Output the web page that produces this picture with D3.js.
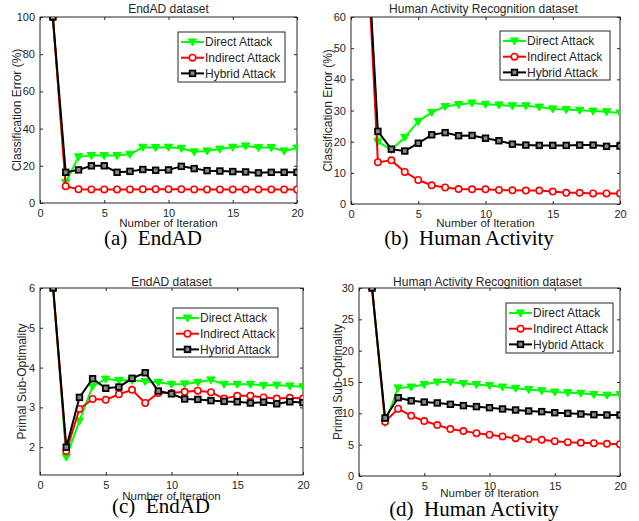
<!DOCTYPE html>
<html>
<head>
<meta charset="utf-8">
<script src="https://cdn.jsdelivr.net/npm/d3@7"></script>
<style>
  body { margin: 0; background: #fff; }
  svg { display: block; }
  text { font-family: "Liberation Sans", Arial, sans-serif; fill: #262626; }
  .caption { font-family: "Liberation Serif", "Times New Roman", serif; fill: #000; }
</style>
</head>
<body>
<svg id="chart" width="639" height="521"></svg>
<script>
// ---------- DATA ----------
const iterations = d3.range(1, 21);
const seriesNames = ["Direct Attack", "Indirect Attack", "Hybrid Attack"];
const xTicks = [0, 5, 10, 15, 20];

// (a) EndAD - classification error
const aDirect   = [100, 11, 24.8, 25.5, 25.5, 25.5, 26.2, 30, 29.8, 30, 29.4, 27.5, 28, 29, 30, 30.7, 29.8, 29.8, 28, 29.6];
const aIndirect = [100, 9, 7.4, 7.3, 7.3, 7.3, 7.3, 7.4, 7.4, 7.4, 7.4, 7.3, 7.3, 7.3, 7.3, 7.3, 7.3, 7.3, 7.3, 7.3];
const aHybrid   = [100, 16.5, 17.8, 20, 20, 16.5, 17, 18, 17.6, 17.8, 19.7, 18.5, 17.4, 17.2, 16.9, 16.7, 16.2, 16.5, 16.5, 16.5];
const aYTicks = [0, 20, 40, 60, 80, 100];

// (b) Human Activity - classification error
const bDirect   = [100, 20, 17.4, 21.4, 26.5, 29.4, 31.3, 31.9, 32.4, 32, 31.8, 31.5, 31.5, 31.1, 30.5, 30.3, 30.1, 29.8, 29.6, 29.2];
const bIndirect = [100, 13.4, 14, 10.3, 7.7, 6, 5.3, 4.8, 4.7, 4.7, 4.5, 4.4, 4.3, 4.3, 4, 3.6, 3.6, 3.4, 3.4, 3.4];
const bHybrid   = [100, 23.3, 17.6, 17, 19.5, 22.2, 22.9, 21.9, 22, 21.1, 20.3, 19.2, 18.9, 18.8, 18.8, 18.8, 18.9, 18.9, 18.5, 18.6];
const bYTicks = [0, 10, 20, 30, 40, 50, 60];

// (c) EndAD - primal sub-optimality
const cDirect   = [6, 1.75, 2.66, 3.53, 3.71, 3.68, 3.68, 3.65, 3.63, 3.58, 3.59, 3.63, 3.69, 3.58, 3.58, 3.58, 3.55, 3.56, 3.54, 3.52];
const cIndirect = [6, 1.9, 2.96, 3.21, 3.19, 3.33, 3.44, 3.11, 3.36, 3.36, 3.39, 3.42, 3.38, 3.22, 3.29, 3.29, 3.25, 3.22, 3.24, 3.22];
const cHybrid   = [6, 2.0, 3.25, 3.72, 3.48, 3.51, 3.73, 3.87, 3.41, 3.34, 3.21, 3.2, 3.17, 3.15, 3.14, 3.11, 3.13, 3.09, 3.14, 3.12];
const cYTicks = [2, 3, 4, 5, 6];

// (d) Human Activity - primal sub-optimality
const dDirect   = [30, 8.5, 14.06, 14.2, 14.6, 15, 15, 14.76, 14.6, 14.44, 14.2, 14, 13.8, 13.6, 13.4, 13.3, 13.2, 13, 12.9, 13];
const dIndirect = [30, 8.66, 10.75, 9.6, 8.77, 8.13, 7.49, 7.17, 6.84, 6.58, 6.31, 6.04, 5.88, 5.78, 5.56, 5.4, 5.29, 5.24, 5.13, 5.08];
const dHybrid   = [30, 9.25, 12.5, 12, 11.8, 11.66, 11.44, 11.23, 11.07, 10.9, 10.7, 10.53, 10.37, 10.27, 10.1, 10, 9.89, 9.79, 9.73, 9.73];
const dYTicks = [0, 5, 10, 15, 20, 25, 30];

// ---------- STYLE ----------
const colors = ["#00ff00", "#ff0000", "#000000"];
const markers = ["triangleDown", "circle", "square"];
const axisColor = "#262626";

const svg = d3.select("#chart");

function drawMarker(g, type, x, y, color) {
  if (type === "triangleDown") {
    g.append("path")
      .attr("d", `M${x - 4.2},${y - 3} L${x + 4.2},${y - 3} L${x},${y + 4} Z`)
      .attr("fill", color).attr("stroke", color).attr("stroke-width", 1);
  } else if (type === "circle") {
    g.append("circle").attr("cx", x).attr("cy", y).attr("r", 3.2)
      .attr("fill", "#fff").attr("stroke", color).attr("stroke-width", 1.6);
  } else {
    g.append("rect").attr("x", x - 2.8).attr("y", y - 2.8).attr("width", 5.6).attr("height", 5.6)
      .attr("fill", "#888").attr("stroke", color).attr("stroke-width", 1.8);
  }
}

let clipId = 0;
function drawPanel(p) {
  const x = d3.scaleLinear().domain([0, 20]).range([p.left, p.right]);
  const y = d3.scaleLinear().domain(p.yDomain).range([p.bottom, p.top]);
  const g = svg.append("g");
  const fmt = d3.format("d");

  // axes box
  const axG = g.append("g");
  const xAxisB = d3.axisBottom(x).tickValues(xTicks).tickSize(-3).tickPadding(6).tickFormat(fmt);
  const xAxisT = d3.axisTop(x).tickValues(xTicks).tickSize(-3).tickFormat("");
  const yAxisL = d3.axisLeft(y).tickValues(p.yTicks).tickSize(-3).tickPadding(5).tickFormat(fmt);
  const yAxisR = d3.axisRight(y).tickValues(p.yTicks).tickSize(-3).tickFormat("");
  const styleAxis = sel => {
    sel.selectAll("line").attr("stroke", axisColor);
    sel.selectAll("text").attr("fill", axisColor).style("font-size", "11px")
      .style("font-family", '"Liberation Sans", Arial, sans-serif');
  };
  axG.append("g").attr("transform", `translate(0,${p.bottom})`).call(xAxisB).call(styleAxis);
  axG.append("g").attr("transform", `translate(0,${p.top})`).call(xAxisT).call(styleAxis);
  axG.append("g").attr("transform", `translate(${p.left},0)`).call(yAxisL).call(styleAxis);
  axG.append("g").attr("transform", `translate(${p.right},0)`).call(yAxisR).call(styleAxis);
  axG.selectAll(".domain").remove();
  axG.append("rect").attr("x", p.left).attr("y", p.top)
    .attr("width", p.right - p.left).attr("height", p.bottom - p.top)
    .attr("fill", "none").attr("stroke", axisColor).attr("stroke-width", 1);

  // clip
  const cid = "clip" + (clipId++);
  svg.append("clipPath").attr("id", cid).append("rect")
    .attr("x", p.left).attr("y", p.top).attr("width", p.right - p.left).attr("height", p.bottom - p.top);
  const plotG = g.append("g").attr("clip-path", `url(#${cid})`);

  const line = d3.line().x((d, i) => x(iterations[i])).y(d => y(d));
  p.series.forEach((vals, si) => {
    const sg = plotG.append("g");
    sg.append("path").datum(vals).attr("d", line)
      .attr("fill", "none").attr("stroke", colors[si]).attr("stroke-width", 2).attr("stroke-linejoin", "round");
    vals.forEach((v, i) => drawMarker(sg, markers[si], x(iterations[i]), y(v), colors[si]));
  });

  // title
  g.append("text").attr("x", (p.left + p.right) / 2 + p.titleDx).attr("y", p.titleY)
    .attr("text-anchor", "middle").style("font-size", "12px").text(p.title);
  // x label
  g.append("text").attr("x", (p.left + p.right) / 2).attr("y", p.xLabelY)
    .attr("text-anchor", "middle").style("font-size", "11.5px").text("Number of Iteration");
  // y label
  g.append("text").attr("transform", `translate(${p.yLabelX},${(p.top + p.bottom) / 2}) rotate(-90)`)
    .attr("text-anchor", "middle").style("font-size", "12px").text(p.yLabel);
  // caption
  g.append("text").attr("class", "caption").attr("x", p.capX).attr("y", p.capY)
    .attr("text-anchor", "middle").style("font-size", "21px").style("white-space", "pre").text(p.caption);

  // legend
  const L = p.legend;
  const lg = g.append("g");
  lg.append("rect").attr("x", L.x).attr("y", L.y).attr("width", L.w).attr("height", L.h)
    .attr("fill", "#fff").attr("stroke", axisColor).attr("stroke-width", 1);
  seriesNames.forEach((name, si) => {
    const ry = L.y + 10 + si * 15.7;
    lg.append("line").attr("x1", L.x + 3).attr("x2", L.x + 26).attr("y1", ry).attr("y2", ry)
      .attr("stroke", colors[si]).attr("stroke-width", 2);
    drawMarker(lg, markers[si], L.x + 14.5, ry, colors[si]);
    lg.append("text").attr("x", L.x + 27).attr("y", ry + 4.3).style("font-size", "12px").text(name);
  });
}

drawPanel({
  left: 40, right: 297, top: 17, bottom: 203, yDomain: [0, 100], yTicks: aYTicks,
  series: [aDirect, aIndirect, aHybrid],
  title: "EndAD dataset", titleDx: 0, titleY: 13,
  xLabelY: 227, yLabel: "Classification Error (%)", yLabelX: 21,
  caption: "(a)  EndAD", capX: 153, capY: 245,
  legend: { x: 178, y: 32, w: 107, h: 50 }
});
drawPanel({
  left: 351, right: 620, top: 17, bottom: 204, yDomain: [0, 60], yTicks: bYTicks,
  series: [bDirect, bIndirect, bHybrid],
  title: "Human Activity Recognition dataset", titleDx: -2, titleY: 13,
  xLabelY: 227, yLabel: "Classification Error (%)", yLabelX: 332,
  caption: "(b)  Human Activity", capX: 469, capY: 245,
  legend: { x: 500, y: 31, w: 110, h: 49 }
});
drawPanel({
  left: 40, right: 303, top: 288, bottom: 475, yDomain: [1.3, 6], yTicks: cYTicks,
  series: [cDirect, cIndirect, cHybrid],
  title: "EndAD dataset", titleDx: 0, titleY: 286,
  xLabelY: 500, yLabel: "Primal Sub-Optimality", yLabelX: 26,
  caption: "(c)  EndAD", capX: 161, capY: 513,
  legend: { x: 173, y: 308, w: 105, h: 49 }
});
drawPanel({
  left: 359, right: 620, top: 288, bottom: 476, yDomain: [0, 30], yTicks: dYTicks,
  series: [dDirect, dIndirect, dHybrid],
  title: "Human Activity Recognition dataset", titleDx: -2, titleY: 286,
  xLabelY: 497, yLabel: "Primal Sub-Optimality", yLabelX: 342,
  caption: "(d)  Human Activity", capX: 474, capY: 516,
  legend: { x: 506, y: 303, w: 107, h: 50 }
});
</script>
</body>
</html>
